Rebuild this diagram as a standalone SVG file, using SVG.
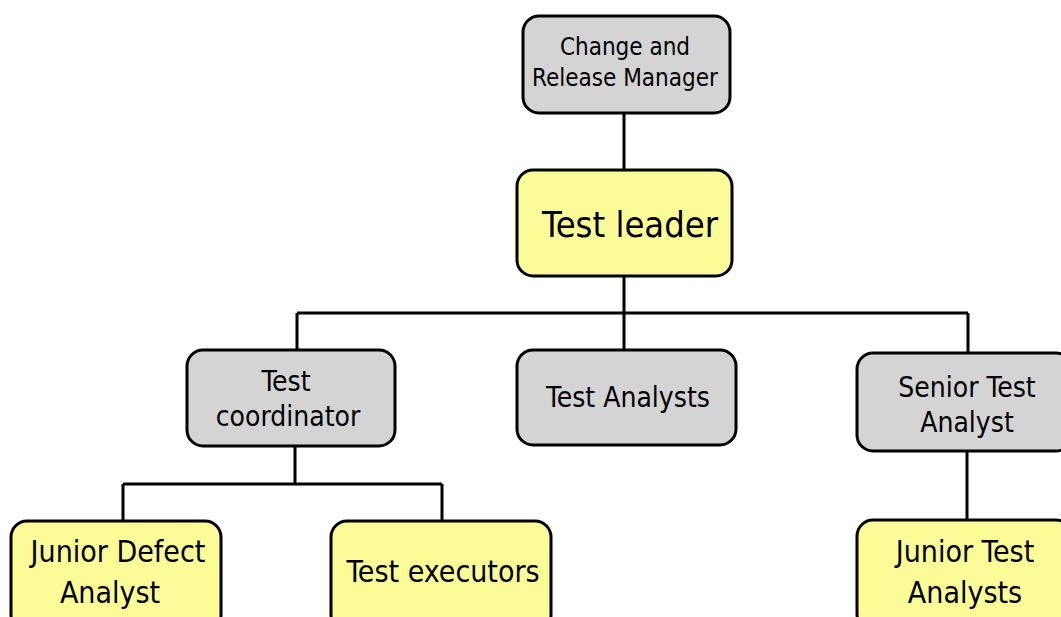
<svg xmlns="http://www.w3.org/2000/svg" width="1061" height="617" viewBox="0 0 1061 617">
<style>
.box{stroke:#000;stroke-width:3}
.g{fill:#d4d4d4}
.y{fill:#fbfb98}
.c{fill:none;stroke:#000;stroke-width:3}
text{font-family:"DejaVu Sans Condensed","DejaVu Sans",sans-serif;fill:#000;text-anchor:middle}
.s24{font-size:24px}
.s28{font-size:28px}
.s30{font-size:30px}
.s36{font-size:36px}
</style>
<rect width="1061" height="617" fill="#fff"/>
<g id="connectors">
<path class="c" d="M624 113V170"/>
<path class="c" d="M624 276V313M297 313H968M297 313V350M624 313V350M968 313V353"/>
<path class="c" d="M295 446V484M123 484H442M123 484V521M442 484V521"/>
<path class="c" d="M967 451V520"/>
</g>
<g id="n1"><rect class="box g" x="523" y="16" width="207" height="97" rx="16"/>
<text class="s24" x="625" y="55">Change and</text><text class="s24" x="625" y="86">Release Manager</text></g>
<g id="n2"><rect class="box y" x="517" y="170" width="215" height="106" rx="16"/>
<text class="s36" x="630" y="237">Test leader</text></g>
<g id="n3"><rect class="box g" x="187" y="350" width="208" height="96" rx="16"/>
<text class="s28" x="286" y="391">Test</text><text class="s28" x="288" y="426">coordinator</text></g>
<g id="n4"><rect class="box g" x="517" y="350" width="219" height="95" rx="16"/>
<text class="s28" x="628" y="407">Test Analysts</text></g>
<g id="n5"><rect class="box g" x="857" y="353" width="215" height="98" rx="16"/>
<text class="s28" x="967" y="397">Senior Test</text><text class="s28" x="967" y="432">Analyst</text></g>
<g id="n6"><rect class="box y" x="11" y="521" width="210" height="110" rx="16"/>
<text class="s30" x="118" y="562">Junior Defect</text><text class="s30" x="110" y="603">Analyst</text></g>
<g id="n7"><rect class="box y" x="331" y="521" width="220" height="110" rx="16"/>
<text class="s30" x="443" y="582">Test executors</text></g>
<g id="n8"><rect class="box y" x="857" y="520" width="215" height="110" rx="16"/>
<text class="s30" x="965" y="562">Junior Test</text><text class="s30" x="965" y="603">Analysts</text></g>
</svg>
